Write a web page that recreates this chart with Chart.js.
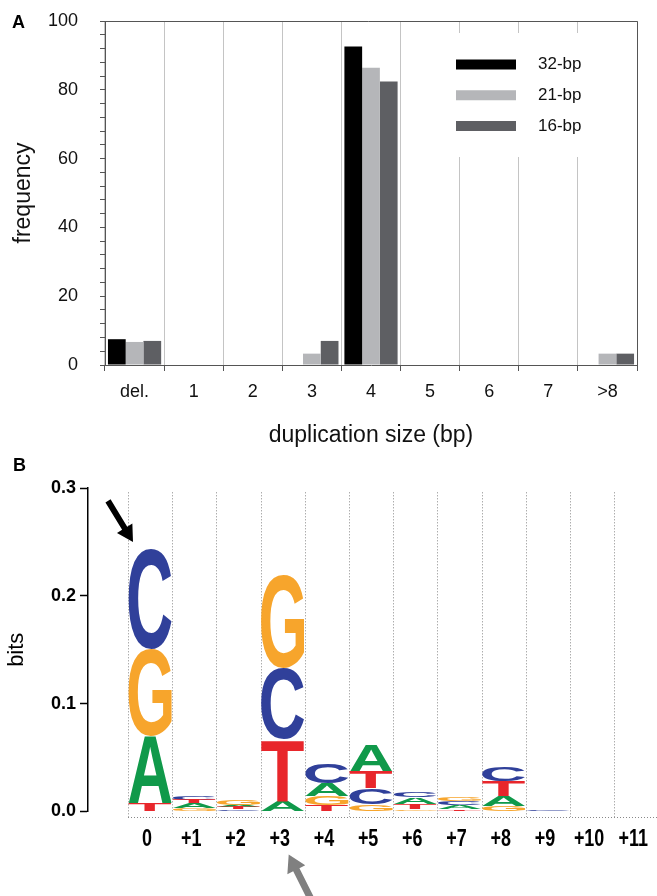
<!DOCTYPE html>
<html>
<head>
<meta charset="utf-8">
<script src="https://cdn.jsdelivr.net/npm/chart.js@4.4.1/dist/chart.umd.min.js"></script>
<style>
  body { margin: 0; background: #fff; }
  #wrap { position: relative; width: 657px; height: 896px; overflow: hidden; }
  canvas { position: absolute; left: 0; }
  #chartA { top: 0; }
  #chartB { top: 450px; }
  .panel { position: absolute; font: bold 18px "Liberation Sans", Arial, sans-serif; color: #000; }
</style>
</head>
<body>
<div id="wrap">
  <canvas id="chartA" width="657" height="450"></canvas>
  <canvas id="chartB" width="657" height="446"></canvas>
  <div class="panel" style="left:12px;top:12px">A</div>
  <div class="panel" style="left:13px;top:455px">B</div>
</div>
<script>
// panel A: duplication sizes
const sizes = ['del.', '1', '2', '3', '4', '5', '6', '7', '>8'];
const freq32 = [7.5, 0, 0, 0, 92.6, 0, 0, 0, 0];
const freq21 = [6.7, 0, 0, 3.3, 86.4, 0, 0, 0, 3.3];
const freq16 = [7.0, 0, 0, 7.0, 82.4, 0, 0, 0, 3.3];
const seriesNames = ['32-bp', '21-bp', '16-bp'];
const freqTicks = [0, 20, 40, 60, 80, 100];

// panel B: logo, letter heights in bits per position
const logoPositions = ['0', '+1', '+2', '+3', '+4', '+5', '+6', '+7', '+8', '+9', '+10', '+11'];
const bitsA = [0.062, 0.005, 0.002, 0.010, 0.012, 0.025, 0.006, 0.004, 0.009, 0, 0, 0];
const bitsC = [0.093, 0.004, 0.002, 0.066, 0.018, 0.015, 0.005, 0.004, 0.013, 0.001, 0, 0];
const bitsG = [0.080, 0.003, 0.005, 0.087, 0.008, 0.007, 0.002, 0.004, 0.005, 0, 0, 0];
const bitsT = [0.008, 0.003, 0.002, 0.057, 0.006, 0.015, 0.005, 0.002, 0.014, 0, 0, 0];
// bottom -> top
const stackOrder = ['TAGC', 'GATC', 'CTAG', 'ATCG', 'TGAC', 'GCTA', 'GTAC', 'TACG', 'GATC', 'ACGT', 'ACGT', 'ACGT'];

const letterBits = { A: bitsA, C: bitsC, G: bitsG, T: bitsT };
const letterColors = { A: '#10994a', C: '#30409a', G: '#f7a52c', T: '#e8262b' };

Chart.defaults.font.family = '"Liberation Sans", Arial, sans-serif';

const frameLegend = {
  id: 'frameLegend',
  afterDatasetsDraw(chart) {
    const { ctx, chartArea: a } = chart;
    ctx.save();
    ctx.strokeStyle = '#555';
    ctx.lineWidth = 1;
    ctx.beginPath();
    ctx.moveTo(a.left - 5, a.top + 0.5);
    ctx.lineTo(a.right + 0.5, a.top + 0.5);
    ctx.lineTo(a.right + 0.5, a.bottom);
    ctx.stroke();

    ctx.fillStyle = '#fff';
    ctx.fillRect(a.left + 340, a.top + 12, 155, 124);
    ctx.font = '17px "Liberation Sans", Arial, sans-serif';
    ctx.textBaseline = 'middle';
    chart.data.datasets.forEach((ds, i) => {
      const cy = a.top + 43.5 + i * 30.75;
      ctx.fillStyle = ds.backgroundColor;
      ctx.fillRect(a.left + 351, cy - 5, 60, 10);
      ctx.fillStyle = '#111';
      ctx.fillText(ds.label, a.left + 433, cy);
    });
    ctx.restore();
  }
};

new Chart(document.getElementById('chartA'), {
  type: 'bar',
  data: {
    labels: sizes,
    datasets: [
      { label: seriesNames[0], data: freq32, backgroundColor: '#000000' },
      { label: seriesNames[1], data: freq21, backgroundColor: '#b5b6b9' },
      { label: seriesNames[2], data: freq16, backgroundColor: '#5e5f63' }
    ]
  },
  options: {
    responsive: false,
    animation: false,
    layout: { padding: { left: 0, top: 21, right: 20, bottom: 0 } },
    datasets: { bar: { categoryPercentage: 0.9, barPercentage: 1, borderWidth: 0 } },
    plugins: { legend: { display: false }, tooltip: { enabled: false } },
    scales: {
      x: {
        grid: { offset: true, color: '#c4c4c4', tickColor: '#555', tickLength: 6 },
        border: { color: '#555' },
        ticks: { color: '#111', font: { size: 18 }, padding: 10, maxRotation: 0 },
        title: { display: true, text: 'duplication size (bp)', color: '#111', font: { size: 23 }, padding: { top: 0, bottom: 1 } },
        afterFit: s => { s.height = 85; }
      },
      y: {
        min: 0,
        max: 100,
        ticks: { stepSize: 4, autoSkip: false, color: '#111', font: { size: 18 }, padding: 22,
                 callback: v => freqTicks.includes(v) ? v : '' },
        grid: { drawOnChartArea: false, tickColor: '#555', tickLength: 5 },
        border: { color: '#555' },
        title: { display: true, text: 'frequency', color: '#111', font: { size: 23 }, padding: { top: 10 } },
        afterFit: s => { s.width = 105; s.paddingTop = 0; s.paddingBottom = 0; }
      }
    }
  },
  plugins: [frameLegend]
});

function letterRanges(letter) {
  return logoPositions.map((p, i) => {
    let lo = 0;
    for (const l of stackOrder[i]) {
      if (l === letter) return { x: i, y: [lo, lo + letterBits[l][i]] };
      lo += letterBits[l][i];
    }
  });
}

function drawGlyph(ctx, letter, color, left, top, w, h) {
  ctx.save();
  ctx.font = 'bold 100px "Liberation Sans", Arial, sans-serif';
  const m = ctx.measureText(letter);
  const gw = m.actualBoundingBoxLeft + m.actualBoundingBoxRight;
  const gh = m.actualBoundingBoxAscent + m.actualBoundingBoxDescent;
  ctx.translate(left, top);
  ctx.scale(w / gw, h / gh);
  ctx.fillStyle = color;
  ctx.textAlign = 'left';
  ctx.textBaseline = 'alphabetic';
  ctx.fillText(letter, m.actualBoundingBoxLeft, m.actualBoundingBoxAscent);
  ctx.restore();
}

function arrow(ctx, x0, y0, x1, y1, color, shaft, headLen, headW) {
  const len = Math.hypot(x1 - x0, y1 - y0);
  ctx.save();
  ctx.translate(x1, y1);
  ctx.rotate(Math.atan2(y1 - y0, x1 - x0));
  ctx.fillStyle = color;
  ctx.beginPath();
  ctx.moveTo(0, 0);
  ctx.lineTo(-headLen, -headW / 2);
  ctx.lineTo(-headLen, -shaft / 2);
  ctx.lineTo(-len, -shaft / 2);
  ctx.lineTo(-len, shaft / 2);
  ctx.lineTo(-headLen, shaft / 2);
  ctx.lineTo(-headLen, headW / 2);
  ctx.closePath();
  ctx.fill();
  ctx.restore();
}

const logoDraw = {
  id: 'logoDraw',
  beforeDatasetsDraw(chart) {
    const { ctx, chartArea: a, scales: { x, y } } = chart;
    const top = y.getPixelForValue(0.296);
    const bottom = a.bottom + 5.5;
    ctx.save();
    ctx.strokeStyle = '#888';
    ctx.lineWidth = 1;
    ctx.setLineDash([1, 2]);
    ctx.beginPath();
    for (let i = 0; i <= logoPositions.length; i++) {
      const px = Math.round(x.getPixelForValue(i - 0.5)) + 0.5;
      ctx.moveTo(px, top);
      ctx.lineTo(px, bottom);
    }
    ctx.moveTo(x.getPixelForValue(-0.5), bottom + 0.5);
    ctx.lineTo(x.getPixelForValue(logoPositions.length - 0.5), bottom + 0.5);
    ctx.stroke();
    ctx.restore();
  },
  afterDatasetsDraw(chart) {
    const { ctx, chartArea: a, scales: { x, y } } = chart;
    chart.data.datasets.forEach((ds, di) => {
      chart.getDatasetMeta(di).data.forEach(bar => {
        const p = bar.getProps(['x', 'y', 'base', 'width'], true);
        const h = Math.abs(p.base - p.y);
        if (h < 0.4) return;
        drawGlyph(ctx, ds.label, letterColors[ds.label], p.x - p.width / 2 + 0.5, Math.min(p.y, p.base), p.width - 1, h);
      });
    });

    // position labels, condensed bold
    ctx.save();
    ctx.fillStyle = '#000';
    ctx.font = 'bold 23px "Liberation Sans", Arial, sans-serif';
    ctx.textAlign = 'center';
    ctx.textBaseline = 'middle';
    logoPositions.forEach((lab, i) => {
      ctx.save();
      ctx.translate(x.getPixelForValue(i) - 3, a.bottom + 28);
      ctx.scale(0.78, 1);
      ctx.fillText(lab, 0, 0);
      ctx.restore();
    });
    ctx.restore();

    const tipX = x.getPixelForValue(-0.5) + 5;
    const tipY = y.getPixelForValue(0.25);
    arrow(ctx, tipX - 25, tipY - 41, tipX, tipY, '#000', 6, 16, 18);
    const gx = x.getPixelForValue(3) + 6;
    const gy = a.bottom + 43;
    arrow(ctx, gx + 22, gy + 44, gx, gy, '#808080', 7, 17, 20);
  }
};

new Chart(document.getElementById('chartB'), {
  type: 'bar',
  data: {
    datasets: ['A', 'C', 'G', 'T'].map(l => ({
      label: l,
      data: letterRanges(l),
      backgroundColor: 'rgba(0,0,0,0)'
    }))
  },
  options: {
    responsive: false,
    animation: false,
    layout: { padding: { left: 0, top: 38, right: 0, bottom: 0 } },
    datasets: { bar: { categoryPercentage: 1, barPercentage: 1, borderWidth: 0, grouped: false } },
    plugins: { legend: { display: false }, tooltip: { enabled: false } },
    scales: {
      x: {
        type: 'linear',
        offset: false,
        min: -1.405,
        max: 11.468,
        grid: { display: false },
        border: { display: false },
        afterBuildTicks: s => { s.ticks = logoPositions.map((p, i) => ({ value: i })); },
        ticks: { display: false },
        afterFit: s => { s.height = 84.5; s.paddingLeft = 0; s.paddingRight = 0; }
      },
      y: {
        min: 0,
        max: 0.3,
        ticks: { stepSize: 0.1, padding: 4, color: '#000', font: { size: 18, weight: 'bold' },
                 callback: v => v.toFixed(1) },
        grid: { drawOnChartArea: false, tickColor: '#000', tickLength: 8, tickWidth: 1.5 },
        border: { color: '#000', width: 1.5 },
        title: { display: true, text: 'bits', color: '#000', font: { size: 22 }, padding: { top: 4 } },
        afterFit: s => { s.width = 88; }
      }
    }
  },
  plugins: [logoDraw]
});
</script>
</body>
</html>
